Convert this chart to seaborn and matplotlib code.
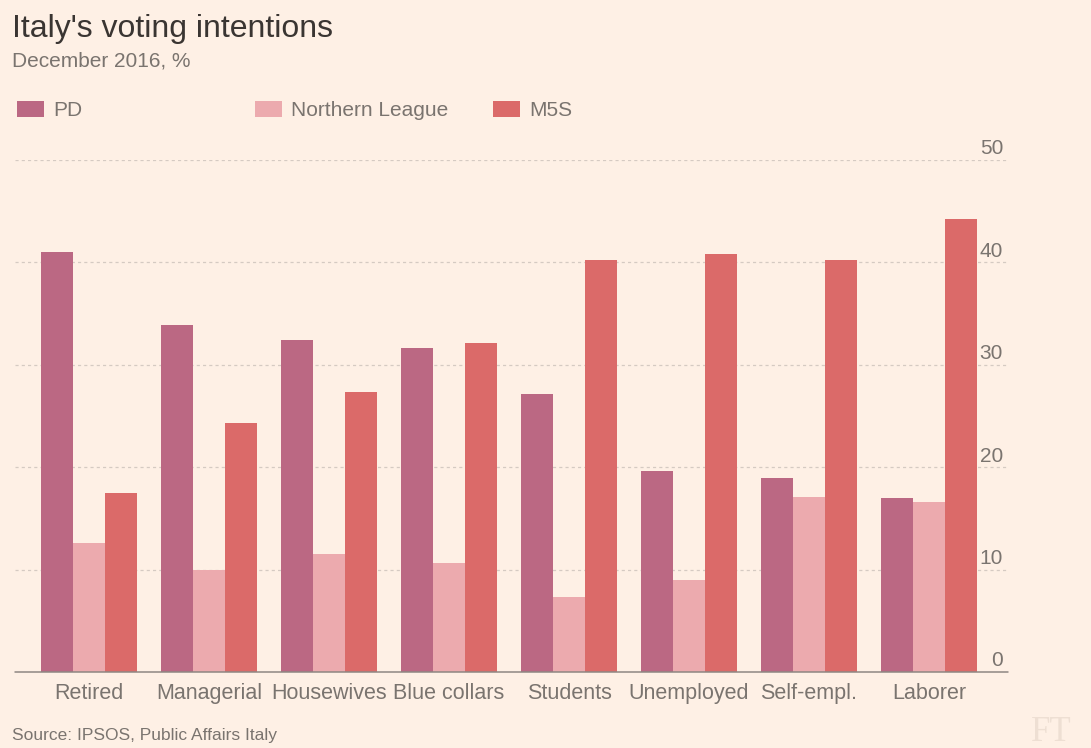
import matplotlib
matplotlib.use("Agg")
import matplotlib.pyplot as plt
import seaborn as sns
import pandas as pd

# Voting intentions by occupation, December 2016 (%)
categories = ["Retired", "Managerial", "Housewives", "Blue collars",
              "Students", "Unemployed", "Self-empl.", "Laborer"]
pd_share = [41.0, 33.9, 32.4, 31.6, 27.1, 19.6, 18.9, 17.0]
league_share = [12.6, 10.0, 11.5, 10.6, 7.3, 9.0, 17.1, 16.6]
m5s_share = [17.5, 24.3, 27.3, 32.1, 40.2, 40.8, 40.2, 44.2]
parties = ["PD", "Northern League", "M5S"]
y_ticks = [0, 10, 20, 30, 40, 50]

BG = "#FEF0E5"
PALETTE = ["#BB6883", "#ECAAAE", "#DB6A69"]
GREY = "#7A746F"
DARK = "#3A3532"

df = pd.DataFrame({
    "group": categories * 3,
    "party": [p for p in parties for _ in categories],
    "value": pd_share + league_share + m5s_share,
})

sns.set_theme(style="white")
plt.rcParams["font.family"] = ["Liberation Sans", "DejaVu Sans"]

W, H = 1091, 748
fig = plt.figure(figsize=(W / 100, H / 100), dpi=100, facecolor=BG)
# plot area: x from 15 px to 1008 px, y from 160 px (50) to 672 px (0)
ax = fig.add_axes([15 / W, 1 - 672 / H, (1008 - 15) / W, (672 - 160) / H])
ax.set_facecolor(BG)

sns.barplot(data=df, x="group", y="value", hue="party",
            order=categories, hue_order=parties, palette=PALETTE,
            width=0.8, saturation=1, errorbar=None, legend=False,
            linewidth=0, ax=ax, zorder=3)

ax.set_xlim(-0.617, 7.658)
ax.set_ylim(0, 50)
for s in ax.spines.values():
    s.set_visible(False)

# dotted horizontal gridlines and solid baseline
for t in y_ticks[1:]:
    ax.axhline(t, color="#D5CAC2", lw=0.9, ls=(0, (2.5, 2.5)), zorder=1)
ax.axhline(0, color="#8E8782", lw=1.1, zorder=4, clip_on=False)

# value labels on the right, sitting above each gridline
ax.set_yticks([])
for t in y_ticks:
    ax.text(7.617, t + 0.55, str(t), ha="right", va="baseline",
            fontsize=15, color=GREY, zorder=5)

ax.set_xticks(range(len(categories)))
ax.set_xticklabels(categories, fontsize=15.5, color=GREY)
ax.tick_params(axis="x", length=0, pad=8)
ax.set_xlabel("")
ax.set_ylabel("")

# title block
fig.text(12 / W, 1 - 37.5 / H, "Italy's voting intentions", fontsize=23,
         color=DARK, ha="left", va="baseline")
fig.text(12 / W, 1 - 66.5 / H, "December 2016, %", fontsize=15,
         color=GREY, ha="left", va="baseline")

# legend: three fixed-width columns
legend_x = [17, 255, 493]
for container, label, lx in zip(ax.containers, parties, legend_x):
    fig.legend([container], [label], loc="center left",
               bbox_to_anchor=(lx / W, 1 - 110.5 / H),
               frameon=False, fontsize=15, borderpad=0,
               borderaxespad=0, handlelength=1.3, handleheight=0.77,
               handletextpad=0.45, labelcolor=GREY)

fig.text(12 / W, 1 - 740 / H, "Source: IPSOS, Public Affairs Italy",
         fontsize=12.5, color=GREY, ha="left", va="baseline")
fig.text(1031 / W, 1 - 741 / H, "FT", fontsize=25, color="#EEDFD3",
         family=["Liberation Serif", "DejaVu Serif"], ha="left", va="baseline")

fig.savefig("out.png", dpi=100, facecolor=BG)
